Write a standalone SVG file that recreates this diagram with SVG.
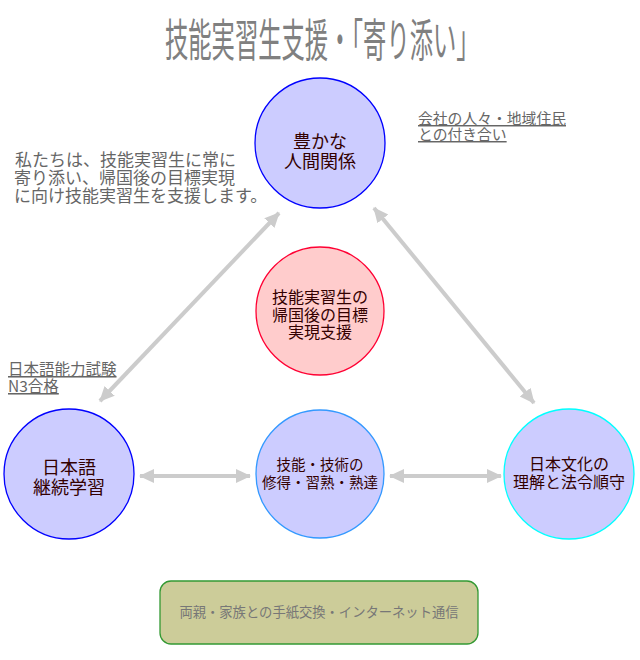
<svg xmlns="http://www.w3.org/2000/svg" width="640" height="660" viewBox="0 0 640 660">
<style>
.jp{font-family:"Noto Sans CJK JP","Noto Sans",sans-serif}
.node{fill:#ccccff;stroke-width:1.3}
.nt{font-size:18px;fill:#330000;text-anchor:middle}
.nm{font-size:16px;fill:#330000;text-anchor:middle}
.ns{font-size:14.5px;fill:#330000;text-anchor:middle}
.note{fill:#666666;text-decoration:underline}
.conn{stroke:#cccccc;stroke-width:4;fill:none}
</style>
<defs>
<marker id="ah" markerUnits="userSpaceOnUse" markerWidth="16" markerHeight="16" refX="14" refY="8" orient="auto-start-reverse" viewBox="0 0 16 16">
<path d="M0,1 L15,8 L0,15 Z" fill="#cccccc"/>
</marker>
</defs>
<rect width="640" height="660" fill="#ffffff"/>
<text class="jp" transform="translate(165,57) scale(0.518,1)" x="0" y="0" font-size="45" fill="#808080">技能実習生支援・「寄り添い」</text>

<g id="connectors">
<line class="conn" x1="100" y1="401" x2="279" y2="213" marker-start="url(#ah)" marker-end="url(#ah)"/>
<line class="conn" x1="374" y1="208" x2="534" y2="403" marker-start="url(#ah)" marker-end="url(#ah)"/>
<line class="conn" x1="140" y1="476" x2="250" y2="476" marker-start="url(#ah)" marker-end="url(#ah)"/>
<line class="conn" x1="390" y1="476" x2="501" y2="476" marker-start="url(#ah)" marker-end="url(#ah)"/>
</g>

<g id="note-left" class="jp" font-size="17" fill="#666666">
<text x="15" y="166">私たちは、技能実習生に常に</text>
<text x="14" y="184">寄り添い、帰国後の目標実現</text>
<text x="14" y="202">に向け技能実習生を支援します。</text>
</g>
<g id="note-topright" class="jp" font-size="14.8">
<text class="note" x="418" y="124">会社の人々・地域住民</text>
<text class="note" x="418" y="140">との付き合い</text>
</g>
<g id="note-jlpt" class="jp" font-size="15.5">
<text class="note" x="8" y="375">日本語能力試験</text>
<text class="note" x="8" y="392">N3合格</text>
</g>

<g id="node-relations">
<circle class="node" cx="320" cy="143" r="65" stroke="#0000ff"/>
<text class="jp nt" x="320" y="148">豊かな</text>
<text class="jp nt" x="320" y="168">人間関係</text>
</g>
<g id="node-goal">
<circle cx="320" cy="311" r="64" fill="#ffcccc" stroke="#ff0033" stroke-width="1.3"/>
<text class="jp nm" x="320" y="303">技能実習生の</text>
<text class="jp nm" x="320" y="320.5">帰国後の目標</text>
<text class="jp nm" x="320" y="338">実現支援</text>
</g>
<g id="node-japanese">
<circle class="node" cx="69" cy="474" r="65" stroke="#0000ff"/>
<text class="jp nt" x="69" y="474">日本語</text>
<text class="jp nt" x="69" y="494">継続学習</text>
</g>
<g id="node-skills">
<circle class="node" cx="320" cy="474" r="64" stroke="#3399ff"/>
<text class="jp ns" x="320" y="470">技能・技術の</text>
<text class="jp ns" x="320" y="488">修得・習熟・熟達</text>
</g>
<g id="node-culture">
<circle class="node" cx="569" cy="474" r="65" stroke="#00ffff"/>
<text class="jp nm" x="569" y="470">日本文化の</text>
<text class="jp nm" x="569" y="488">理解と法令順守</text>
</g>
<g id="node-family">
<rect x="160" y="581" width="318" height="63" rx="11" fill="#cccc99" stroke="#339933" stroke-width="1.3"/>
<text class="jp" x="319" y="617" font-size="13.3" fill="#777777" text-anchor="middle">両親・家族との手紙交換・インターネット通信</text>
</g>
</svg>
